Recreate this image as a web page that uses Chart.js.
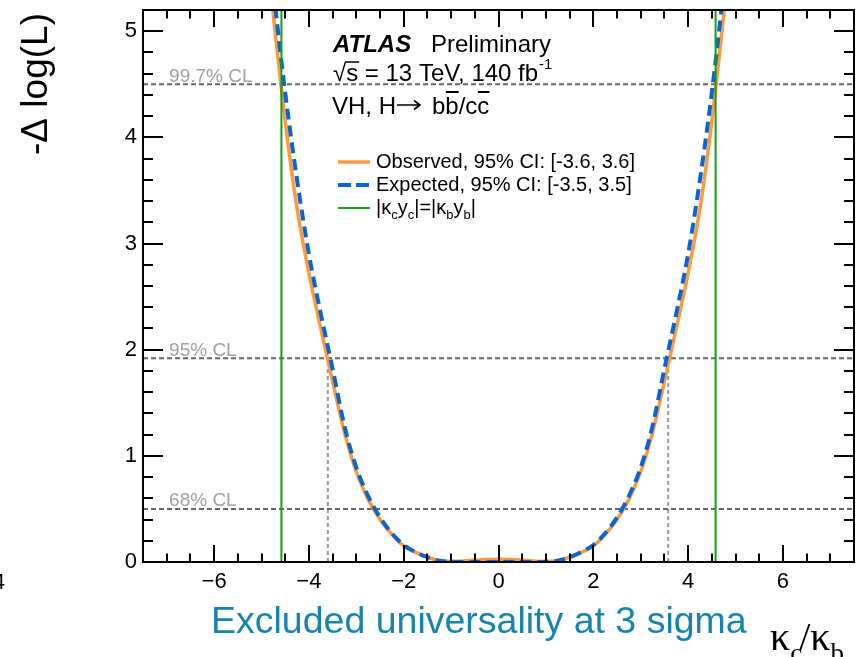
<!DOCTYPE html>
<html>
<head>
<meta charset="utf-8">
<script src="https://cdn.jsdelivr.net/npm/chart.js@4.4.0/dist/chart.umd.min.js"></script>
<style>
  body { margin: 0; background: #fff; }
  canvas { display: block; }
</style>
</head>
<body>
<canvas id="nllChart" width="856" height="657"></canvas>
<script>
// kappa_c / kappa_b scan points
const kappaRatio = [-5, -4.75, -4.5, -4.25, -4, -3.75, -3.5, -3.25, -3, -2.75, -2.5, -2.25, -2, -1.75, -1.5, -1.25, -1, -0.75, -0.5, -0.25,
  0, 0.25, 0.5, 0.75, 1, 1.25, 1.5, 1.75, 2, 2.25, 2.5, 2.75, 3, 3.25, 3.5, 3.75, 4, 4.25, 4.5, 4.75, 5];

// -delta log(L), observed
const observedNLL = [6.2, 5.15, 4.15, 3.33, 2.72, 2.2, 1.7, 1.22, 0.85, 0.59, 0.4, 0.26, 0.15, 0.09, 0.045, 0.014, 0.004, 0.009, 0.018, 0.024,
  0.025, 0.024, 0.018, 0.009, 0.004, 0.014, 0.045, 0.09, 0.15, 0.26, 0.4, 0.59, 0.85, 1.22, 1.7, 2.2, 2.72, 3.33, 4.15, 5.15, 6.2];

// -delta log(L), expected (Asimov)
const expectedNLL = [6.5, 5.4, 4.42, 3.6, 2.9, 2.34, 1.82, 1.28, 0.89, 0.62, 0.42, 0.27, 0.16, 0.095, 0.045, 0.012, 0.002, 0, 0, 0,
  0, 0, 0, 0, 0.002, 0.012, 0.045, 0.095, 0.16, 0.27, 0.42, 0.62, 0.89, 1.28, 1.82, 2.34, 2.9, 3.6, 4.42, 5.4, 6.5];

// |kc yc| = |kb yb| boundaries
const universalityKappa = [-4.58, 4.58];
// 95% CL crossing of the observed curve
const obsCrossing95 = [-3.6, 3.58];

// CL thresholds
const clLevels = [0.5, 1.92, 4.5];
const clLabels = ['68% CL', '95% CL', '99.7% CL'];

const xTickValues = [-6, -4, -2, 0, 2, 4, 6];
const yTickValues = [0, 1, 2, 3, 4, 5];

const X_MIN = -7.5, X_MAX = 7.5, Y_MIN = 0, Y_MAX = 5.2;

const SANS = "'Liberation Sans', Arial, sans-serif";
const SERIF = "'Liberation Serif', 'Times New Roman', serif";
const ORANGE = '#ff9a3c';
const BLUE = '#0a64d2';
const GREEN = '#12a012';

const pts = (ys) => kappaRatio.map((x, i) => ({ x: x, y: ys[i] }));

const datasets = [];

universalityKappa.forEach(k => {
  datasets.push({
    data: [{ x: k, y: Y_MIN }, { x: k, y: Y_MAX }],
    borderColor: GREEN, borderWidth: 2, pointRadius: 0, tension: 0
  });
});

datasets.push({
  data: pts(expectedNLL),
  borderColor: BLUE, borderWidth: 4, borderDash: [11, 6],
  pointRadius: 0, cubicInterpolationMode: 'monotone'
});

datasets.push({
  data: pts(observedNLL),
  borderColor: ORANGE, borderWidth: 3.5,
  pointRadius: 0, cubicInterpolationMode: 'monotone'
});

clLevels.forEach(v => {
  datasets.push({
    data: [{ x: X_MIN, y: v }, { x: X_MAX, y: v }],
    borderColor: '#666', borderWidth: 2, borderDash: [5, 3], pointRadius: 0, tension: 0
  });
});

obsCrossing95.forEach(k => {
  datasets.push({
    data: [{ x: k, y: Y_MIN }, { x: k, y: clLevels[1] }],
    borderColor: '#9a9a9a', borderWidth: 2, borderDash: [4, 3], pointRadius: 0, tension: 0
  });
});

// draws the frame, inner ticks on all four sides and the text
const atlasDecor = {
  id: 'atlasDecor',
  afterDatasetsDraw(chart) {
    const ctx = chart.ctx;
    const a = chart.chartArea;
    const xs = chart.scales.x, ys = chart.scales.y;
    ctx.save();

    // frame
    ctx.strokeStyle = '#000';
    ctx.lineWidth = 2;
    ctx.strokeRect(a.left, a.top, a.right - a.left, a.bottom - a.top);

    // x ticks (bottom + top)
    ctx.lineWidth = 2;
    ctx.beginPath();
    for (let v = -7; v <= 7.001; v += 0.5) {
      const px = Math.round(xs.getPixelForValue(v));
      const len = (Math.abs(v) % 2 === 0) ? 17 : 8.5;
      ctx.moveTo(px, a.bottom); ctx.lineTo(px, a.bottom - len);
      ctx.moveTo(px, a.top); ctx.lineTo(px, a.top + len);
    }
    // y ticks (left + right)
    for (let i = 1; i <= 26; i++) {
      const v = i * 0.2;
      const py = Math.round(ys.getPixelForValue(v));
      const len = (i % 5 === 0) ? 20 : 10;
      ctx.moveTo(a.left, py); ctx.lineTo(a.left + len, py);
      ctx.moveTo(a.right, py); ctx.lineTo(a.right - len, py);
    }
    ctx.stroke();

    // CL labels
    ctx.fillStyle = '#a0a0a0';
    ctx.font = '19px ' + SANS;
    ctx.textAlign = 'left';
    ctx.textBaseline = 'alphabetic';
    clLevels.forEach((v, i) => {
      ctx.fillText(clLabels[i], xs.getPixelForValue(-6.95), ys.getPixelForValue(v) - 2.5);
    });

    // ATLAS label
    ctx.fillStyle = '#000';
    ctx.strokeStyle = '#000';
    ctx.font = 'italic bold 24px ' + SANS;
    ctx.fillText('ATLAS', 333, 52);
    ctx.font = '24px ' + SANS;
    ctx.fillText('Preliminary', 431, 52);

    // sqrt(s) line
    let x = 333;
    ctx.fillText('\u221A', x, 81);
    x += ctx.measureText('\u221A').width;
    const sW = ctx.measureText('s').width;
    ctx.fillText('s', x, 81);
    ctx.lineWidth = 1.5;
    ctx.beginPath();
    ctx.moveTo(x - 1, 62); ctx.lineTo(x + sW + 1, 62);
    ctx.stroke();
    x += sW;
    const rest = ' = 13 TeV, 140 fb';
    ctx.fillText(rest, x, 81);
    x += ctx.measureText(rest).width;
    ctx.font = '15px ' + SANS;
    ctx.fillText('-1', x + 1, 69);

    // process line: VH, H -> b bbar / c cbar
    ctx.font = '24px ' + SANS;
    x = 332;
    ctx.fillText('VH, H', x, 114);
    x += ctx.measureText('VH, H').width + 1;
    ctx.lineWidth = 1.6;
    ctx.beginPath();
    ctx.moveTo(x, 105); ctx.lineTo(x + 23, 105);
    ctx.moveTo(x + 17, 100.5); ctx.lineTo(x + 23, 105); ctx.lineTo(x + 17, 109.5);
    ctx.stroke();
    x += 35;
    ctx.lineWidth = 2;
    const parts = [['b', false], ['b', true], ['/c', false], ['c', true]];
    parts.forEach(([t, bar]) => {
      ctx.fillText(t, x, 114);
      const w = ctx.measureText(t).width;
      if (bar) {
        ctx.beginPath();
        ctx.moveTo(x + 0.5, 92); ctx.lineTo(x + w, 92);
        ctx.stroke();
      }
      x += w;
    });

    // legend
    const lx0 = 338, lx1 = 370, tx = 376;
    ctx.lineWidth = 3.5;
    ctx.strokeStyle = ORANGE;
    ctx.beginPath(); ctx.moveTo(lx0, 162); ctx.lineTo(lx1, 162); ctx.stroke();
    ctx.lineWidth = 4;
    ctx.strokeStyle = BLUE;
    ctx.setLineDash([13, 5]);
    ctx.beginPath(); ctx.moveTo(lx0, 185); ctx.lineTo(lx1, 185); ctx.stroke();
    ctx.setLineDash([]);
    ctx.lineWidth = 2;
    ctx.strokeStyle = GREEN;
    ctx.beginPath(); ctx.moveTo(lx0, 208); ctx.lineTo(lx1, 208); ctx.stroke();

    ctx.fillStyle = '#000';
    ctx.font = '20px ' + SANS;
    ctx.fillText('Observed, 95% CI: [-3.6, 3.6]', tx, 168);
    ctx.fillText('Expected, 95% CI: [-3.5, 3.5]', tx, 191);

    // |kc yc| = |kb yb| with subscripts
    x = tx;
    const pieces = [['|\u03BA', 0], ['c', 1], ['y', 0], ['c', 1], ['|=|\u03BA', 0], ['b', 1], ['y', 0], ['b', 1], ['|', 0]];
    pieces.forEach(([t, sub]) => {
      ctx.font = (sub ? '13px ' : '20px ') + SANS;
      ctx.fillText(t, x, sub ? 219 : 214);
      x += ctx.measureText(t).width;
    });

    // y axis title
    ctx.save();
    ctx.translate(37, 84);
    ctx.rotate(-Math.PI / 2);
    ctx.font = '37px ' + SANS;
    ctx.textAlign = 'center';
    ctx.textBaseline = 'middle';
    ctx.fillText('-\u0394 log(L)', 0, 0);
    ctx.restore();

    // x axis title
    ctx.font = '40px ' + SERIF;
    x = 770;
    ctx.fillText('\u03BA', x, 650);
    x += ctx.measureText('\u03BA').width;
    ctx.font = '27px ' + SERIF;
    ctx.fillText('c', x, 662);
    x += ctx.measureText('c').width - 3;
    ctx.font = '40px ' + SERIF;
    ctx.fillText('/', x, 650);
    x += ctx.measureText('/').width;
    ctx.fillText('\u03BA', x, 650);
    x += ctx.measureText('\u03BA').width;
    ctx.font = '27px ' + SERIF;
    ctx.fillText('b', x, 662);

    // caption
    ctx.fillStyle = '#1784ab';
    ctx.font = '37.5px ' + SANS;
    ctx.fillText('Excluded universality at 3 sigma', 211, 633);

    // stray glyph at the left border
    ctx.fillStyle = '#000';
    ctx.font = '22px ' + SANS;
    ctx.textAlign = 'right';
    ctx.fillText('4', 5, 589);

    ctx.restore();
  }
};

new Chart(document.getElementById('nllChart').getContext('2d'), {
  type: 'line',
  data: { datasets: datasets },
  options: {
    responsive: false,
    animation: false,
    layout: { padding: { top: 10, right: 2, left: 0, bottom: 0 } },
    plugins: { legend: { display: false }, tooltip: { enabled: false } },
    scales: {
      x: {
        type: 'linear', min: X_MIN, max: X_MAX,
        grid: { display: false, drawTicks: false },
        border: { display: false },
        afterBuildTicks: s => { s.ticks = xTickValues.map(v => ({ value: v })); },
        afterFit: s => { s.height = 95; s.paddingLeft = 0; s.paddingRight = 0; },
        ticks: {
          padding: 7, color: '#000', maxRotation: 0,
          font: { family: SANS, size: 22 },
          callback: v => v < 0 ? '\u2212' + (-v) : String(v)
        }
      },
      y: {
        type: 'linear', min: Y_MIN, max: Y_MAX,
        grid: { display: false, drawTicks: false },
        border: { display: false },
        afterBuildTicks: s => { s.ticks = yTickValues.map(v => ({ value: v })); },
        afterFit: s => { s.width = 143; s.paddingTop = 0; s.paddingBottom = 0; },
        ticks: {
          padding: 6, color: '#000',
          font: { family: SANS, size: 22 },
          callback: v => String(v)
        }
      }
    }
  },
  plugins: [atlasDecor]
});
</script>
</body>
</html>
